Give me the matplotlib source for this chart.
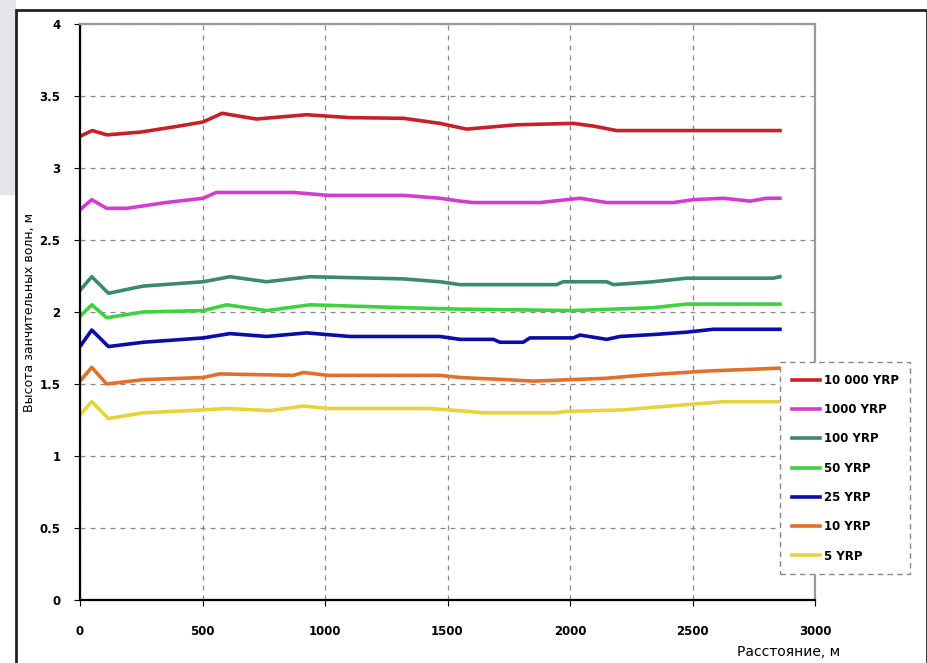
import numpy as np
import matplotlib.pyplot as plt
from matplotlib.patches import Rectangle

# distance, m
x_red = [0, 50, 110, 250, 400, 503, 580, 720, 925, 1100, 1320, 1469, 1578, 1782, 2013, 2100, 2190, 2500, 2857]
y_red = [3.22, 3.26, 3.23, 3.25, 3.29, 3.32, 3.38, 3.34, 3.37, 3.35, 3.345, 3.31, 3.27, 3.30, 3.31, 3.29, 3.26, 3.26, 3.26]

x_mag = [0, 48, 109, 191, 350, 503, 556, 873, 1012, 1320, 1469, 1551, 1605, 1878, 2041, 2150, 2422, 2503, 2626, 2735, 2803, 2857]
y_mag = [2.71, 2.78, 2.72, 2.72, 2.76, 2.79, 2.83, 2.83, 2.81, 2.81, 2.79, 2.77, 2.76, 2.76, 2.79, 2.76, 2.76, 2.78, 2.79, 2.77, 2.79, 2.79]

x_teal = [0, 48, 116, 258, 503, 612, 762, 939, 1320, 1469, 1551, 1945, 1972, 2150, 2177, 2340, 2476, 2830, 2857]
y_teal = [2.15, 2.245, 2.13, 2.18, 2.21, 2.245, 2.21, 2.245, 2.23, 2.21, 2.19, 2.19, 2.21, 2.21, 2.19, 2.21, 2.235, 2.235, 2.245]

x_grn = [0, 48, 109, 258, 503, 599, 762, 939, 1320, 1551, 2013, 2340, 2476, 2857]
y_grn = [1.97, 2.05, 1.96, 2.00, 2.01, 2.05, 2.01, 2.05, 2.03, 2.02, 2.01, 2.03, 2.055, 2.055]

x_blue = [0, 48, 116, 258, 503, 612, 762, 925, 1102, 1469, 1551, 1687, 1714, 1809, 1836, 2013, 2041, 2150, 2204, 2354, 2476, 2585, 2857]
y_blue = [1.76, 1.875, 1.76, 1.79, 1.82, 1.85, 1.83, 1.855, 1.83, 1.83, 1.81, 1.81, 1.79, 1.79, 1.82, 1.82, 1.84, 1.81, 1.83, 1.845, 1.86, 1.88, 1.88]

x_org = [0, 48, 109, 258, 503, 570, 871, 912, 1012, 1469, 1551, 1741, 1850, 2150, 2286, 2422, 2558, 2857]
y_org = [1.52, 1.615, 1.50, 1.53, 1.545, 1.57, 1.56, 1.58, 1.56, 1.56, 1.545, 1.53, 1.52, 1.54, 1.56, 1.575, 1.59, 1.61]

x_yel = [0, 48, 116, 258, 503, 599, 776, 912, 1012, 1422, 1551, 1646, 1945, 1986, 2218, 2354, 2503, 2626, 2857]
y_yel = [1.285, 1.377, 1.26, 1.30, 1.32, 1.33, 1.315, 1.347, 1.33, 1.33, 1.315, 1.30, 1.30, 1.31, 1.32, 1.34, 1.36, 1.377, 1.377]

labels = ["10 000 YRP", "1000 YRP", "100 YRP", "50 YRP", "25 YRP", "10 YRP", "5 YRP"]
colors = ["#c8202a", "#d43cd0", "#3c8a6e", "#3ed23e", "#0c0ca8", "#e0702a", "#e6d43a"]

series = [(x_red, y_red), (x_mag, y_mag), (x_teal, y_teal), (x_grn, y_grn),
          (x_blue, y_blue), (x_org, y_org), (x_yel, y_yel)]

fig = plt.figure(figsize=(9.28, 6.63), dpi=100)
fig.patch.set_facecolor("white")
ax = fig.add_axes([80 / 928, 63 / 663, 735 / 928, 576 / 663])

for (xs, ys), c, lab in zip(series, colors, labels):
    ax.plot(xs, ys, color=c, lw=2.6, label=lab, solid_joinstyle="round")

ax.set_xlim(0, 3000)
ax.set_ylim(0, 4)
ax.set_xticks(np.arange(0, 3001, 500))
ax.set_yticks(np.arange(0, 4.01, 0.5))
ax.set_yticklabels(["0", "0.5", "1", "1.5", "2", "2.5", "3", "3.5", "4"])
ax.grid(True, ls=(0, (4, 4)), color="#888888", lw=0.9)
ax.tick_params(axis="x", length=4, pad=14, labelsize=8.5)
ax.tick_params(axis="y", length=4, pad=10, labelsize=8.5)
for lbl in ax.get_xticklabels() + ax.get_yticklabels():
    lbl.set_fontweight("bold")

for s in ["left", "bottom"]:
    ax.spines[s].set_color("black")
    ax.spines[s].set_linewidth(1.6)
for s in ["top", "right"]:
    ax.spines[s].set_color("#999999")
    ax.spines[s].set_linewidth(1.6)

fig.text(30 / 928, 1 - 312 / 663, "Высота занчительных волн, м", rotation=90,
         ha="center", va="center", fontsize=9)
fig.text(840 / 928, 1 - 652 / 663, "Расстояние, м", ha="right", va="center", fontsize=10)

leg = fig.legend(loc="upper left", bbox_to_anchor=(780 / 928, 1 - 362 / 663),
                 fancybox=False, handlelength=2.4, labelspacing=1.38, borderpad=1.0,
                 handletextpad=0.3, borderaxespad=0, prop={"size": 8.5, "weight": "bold"})
leg.get_frame().set_linestyle((0, (4, 3)))
leg.get_frame().set_edgecolor("#888888")
leg.get_frame().set_linewidth(1.0)
leg.get_frame().set_alpha(1)

# screenshot border and grey strip
fig.patches.append(Rectangle((0, 1 - 195 / 663), 16 / 928, 195 / 663, transform=fig.transFigure,
                             facecolor="#e6e4ea", edgecolor="none", zorder=-1))
fig.patches.append(Rectangle((16 / 928, -0.01), 911 / 928, 1 - 10 / 663 + 0.01, transform=fig.transFigure,
                             facecolor="none", edgecolor="#222222", lw=2))

fig.savefig("out.png", dpi=100)
